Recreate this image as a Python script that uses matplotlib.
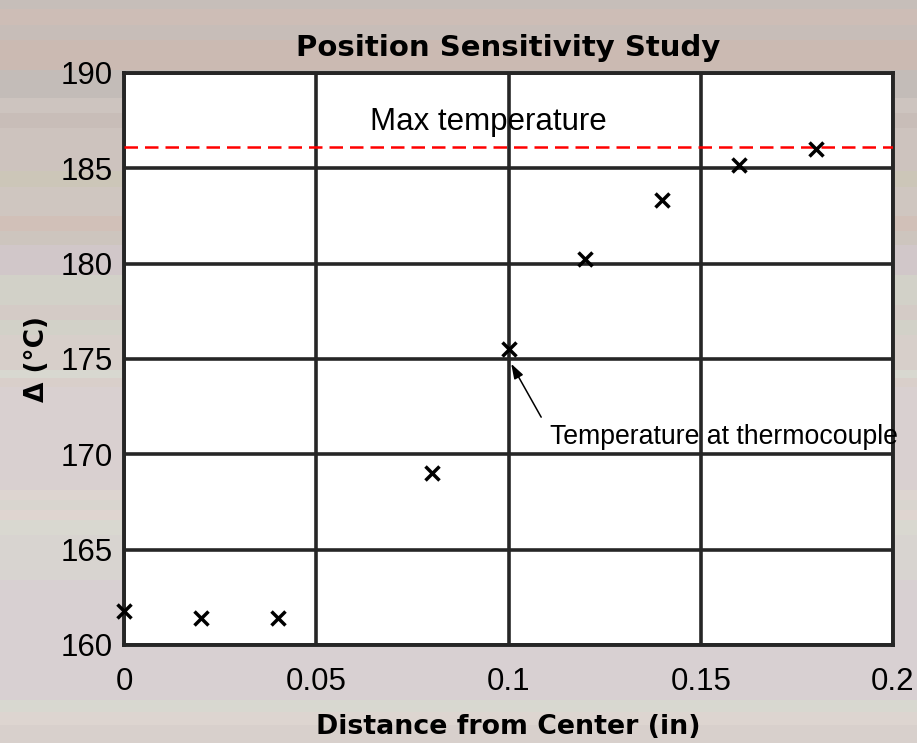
import numpy as np
import matplotlib
matplotlib.use("Agg")
import matplotlib.pyplot as plt

plt.rcParams['font.family'] = ['Liberation Sans', 'DejaVu Sans']

# data
distance = [0.0, 0.02, 0.04, 0.08, 0.10, 0.12, 0.14, 0.16, 0.18]
delta_t = [161.8, 161.4, 161.4, 169.0, 175.5, 180.25, 183.35, 185.2, 186.0]
max_temp = 186.1
x_ticks = [0, 0.05, 0.1, 0.15, 0.2]
x_tick_labels = ['0', '0.05', '0.1', '0.15', '0.2']
y_ticks = [160, 165, 170, 175, 180, 185, 190]

# striped backdrop (pixel rows from top, colour)
stripes = [
    (0, 9, '#c6beb9'), (9, 25, '#cdbdb6'), (25, 40, '#c7bdb8'),
    (40, 70, '#cbbab2'), (70, 98, '#c3bcb8'), (98, 113, '#cdc4bf'),
    (113, 128, '#c8bdb8'), (128, 171, '#cdc3be'), (171, 187, '#ccc6b8'),
    (187, 216, '#cfc6c0'), (216, 231, '#d1c0b8'), (231, 245, '#cdc5be'),
    (245, 275, '#d1c7c9'), (275, 305, '#d2d1c8'), (305, 320, '#d4cbc6'),
    (320, 335, '#d2d1c8'), (335, 370, '#d7cfca'), (370, 378, '#d8d8d0'),
    (378, 387, '#d9cfca'), (387, 490, '#d9d0d0'), (490, 500, '#ddd5d0'),
    (500, 510, '#d9d5cf'), (510, 520, '#dfd5d0'), (520, 535, '#d9d8d0'),
    (535, 580, '#d8d4d0'), (580, 700, '#d8d0d2'), (700, 712, '#d8d8d0'),
    (712, 725, '#ddd5d0'), (725, 743, '#d8d0cc'),
]

fig = plt.figure(figsize=(9.17, 7.43), dpi=100)
bg = fig.add_axes([0, 0, 1, 1], zorder=-10)
bg.set_xlim(0, 1)
bg.set_ylim(743, 0)
for top, bot, c in stripes:
    bg.axhspan(top, bot, color=c, lw=0)
bg.axis('off')

ax = fig.add_axes([124 / 917, 98 / 743, 769 / 917, 572 / 743])
ax.set_facecolor('white')
grid_c = '#262626'

ax.plot(distance, delta_t, 'x', color='black', ms=10, mew=2.5, zorder=5,
        clip_on=False)
ax.axhline(max_temp, color='red', ls=(0, (5.4, 2.8)), lw=1.8, zorder=4)

ax.set_xlim(0, 0.2)
ax.set_ylim(160, 190)
ax.set_xticks(x_ticks)
ax.set_xticklabels(x_tick_labels)
ax.set_yticks(y_ticks)
ax.grid(True, color=grid_c, lw=2.6)
ax.set_axisbelow(True)
for s in ax.spines.values():
    s.set_color(grid_c)
    s.set_linewidth(2.8)
ax.tick_params(length=0, labelsize=22.5)
ax.tick_params(axis='x', pad=16)
ax.tick_params(axis='y', pad=8)

ax.text(0.064, 187.45, 'Max temperature', fontsize=22.5, va='center', ha='left')
ax.text(0.1108, 170.9, 'Temperature at thermocouple', fontsize=19.2,
        va='center', ha='left')
ax.annotate('', xy=(0.1007, 174.75), xytext=(0.1085, 171.95),
            arrowprops=dict(arrowstyle='-|>,head_length=0.9,head_width=0.3',
                            color='black', lw=1.1, shrinkA=0, shrinkB=0))

bold = dict(family='DejaVu Sans', fontweight='bold')
ax.set_title('Position Sensitivity Study', fontsize=21, pad=12, **bold)
ax.set_xlabel('Distance from Center (in)', fontsize=19.3, labelpad=12, **bold)
ax.set_ylabel('Δ (°C)', fontsize=19, labelpad=8, **bold)

fig.savefig('out.png', dpi=100)
